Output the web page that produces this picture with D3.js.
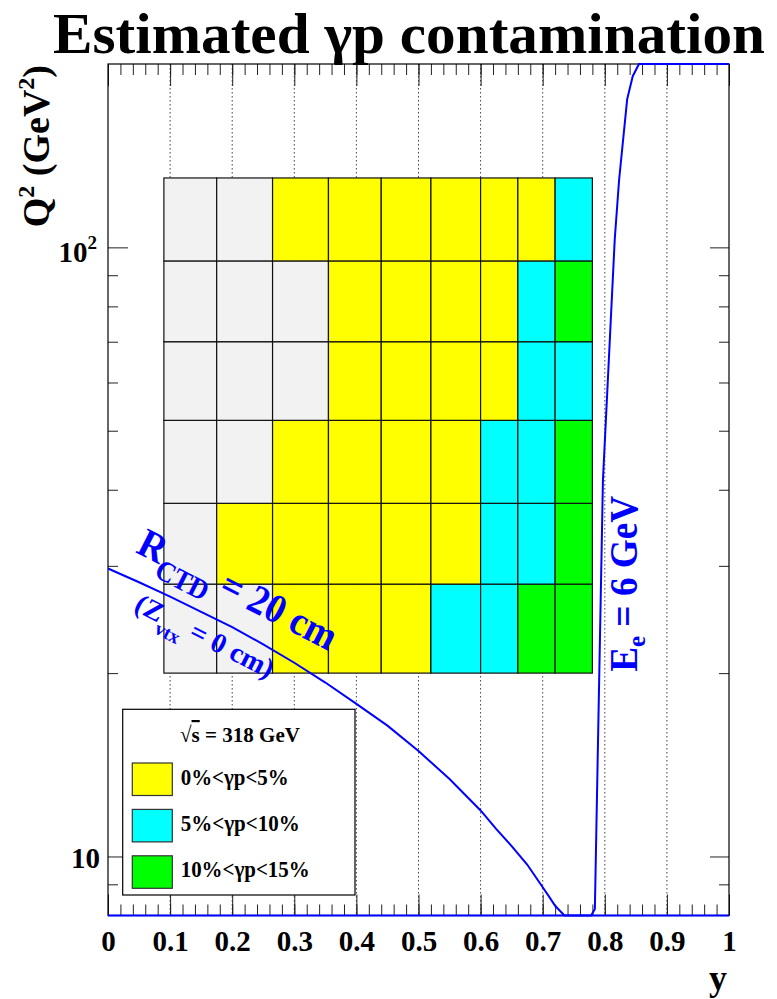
<!DOCTYPE html>
<html>
<head>
<meta charset="utf-8">
<script src="https://cdn.jsdelivr.net/npm/d3@7"></script>
<style>
  body { margin: 0; background: #fff; }
  svg { display: block; font-family: "Liberation Serif", "Times New Roman", serif; font-weight: bold; }
</style>
</head>
<body>
<svg id="chart" width="777" height="999"></svg>
<script>
// bin edges of the y / Q2 grid
const yEdges = [0.09, 0.175, 0.265, 0.355, 0.44, 0.52, 0.60, 0.66, 0.72, 0.78];
const q2Edges = [20, 28, 38, 52, 70, 95, 130];

// contamination class per cell, rows from low Q2 to high Q2
// 0 = not estimated, 1 = 0-5%, 2 = 5-10%, 3 = 10-15%
const cellClass = [
  [0, 0, 1, 1, 1, 2, 2, 3, 3],
  [0, 1, 1, 1, 1, 1, 2, 2, 3],
  [0, 0, 1, 1, 1, 1, 2, 2, 3],
  [0, 0, 0, 1, 1, 1, 1, 2, 2],
  [0, 0, 0, 1, 1, 1, 1, 2, 3],
  [0, 0, 1, 1, 1, 1, 1, 1, 2]
];
const classColors = ['#f2f2f2', '#ffff00', '#00ffff', '#00ff00'];
const legendLabels = ['0%<γp<5%', '5%<γp<10%', '10%<γp<15%'];

// R_CTD = 20 cm acceptance line
const rctdY  = [0, 0.05, 0.1, 0.15, 0.2, 0.25, 0.3, 0.35, 0.4, 0.45, 0.5, 0.55, 0.6, 0.625, 0.65, 0.675, 0.7, 0.71, 0.72, 0.735, 1.0];
const rctdQ2 = [29.7, 28.2, 26.7, 25.2, 23.8, 22.3, 20.8, 19.3, 17.8, 16.4, 14.9, 13.4, 11.9, 11.1, 10.4, 9.7, 8.9, 8.6, 8.3, 8.0, 8.0];

// E_e = 6 GeV line
const eeY  = [0, 0.778, 0.784, 0.797, 0.816, 0.823, 0.836, 0.845, 0.855, 1.0];
const eeQ2 = [8, 8, 8.2, 41.5, 103, 129, 175, 191, 200, 200];

// tick labels
const xMajor = [0, 0.1, 0.2, 0.3, 0.4, 0.5, 0.6, 0.7, 0.8, 0.9, 1];
const xGrid = [0.1, 0.2, 0.3, 0.4, 0.5, 0.6, 0.7, 0.8, 0.9];
const yMajor = [10, 100];
const yMinor = [9, 20, 30, 40, 50, 60, 70, 80, 90];

const frame = {left: 108, right: 729, top: 64, bottom: 915.5};

const svg = d3.select('#chart');

const xScale = d3.scaleLinear().domain([0, 1]).range([frame.left, frame.right]);
const yScale = d3.scaleLog().domain([8, 200]).range([frame.bottom, frame.top]);

// title
svg.append('text')
  .attr('x', 53).attr('y', 53)
  .attr('font-size', 58)
  .attr('textLength', 712).attr('lengthAdjust', 'spacingAndGlyphs')
  .text('Estimated γp contamination');

// dotted grid
svg.append('g').selectAll('line')
  .data(xGrid).enter().append('line')
  .attr('x1', d => xScale(d)).attr('x2', d => xScale(d))
  .attr('y1', frame.top).attr('y2', frame.bottom)
  .attr('stroke', '#444').attr('stroke-width', 1)
  .attr('stroke-dasharray', '1.5,2.5');

// cells
let cells = [];
cellClass.forEach((row, r) => {
  row.forEach((c, k) => {
    cells.push({y0: yEdges[k], y1: yEdges[k + 1], q0: q2Edges[r], q1: q2Edges[r + 1], c: c});
  });
});
svg.append('g').selectAll('rect')
  .data(cells).enter().append('rect')
  .attr('x', d => xScale(d.y0))
  .attr('y', d => yScale(d.q1))
  .attr('width', d => xScale(d.y1) - xScale(d.y0))
  .attr('height', d => yScale(d.q0) - yScale(d.q1))
  .attr('fill', d => classColors[d.c])
  .attr('stroke', '#111').attr('stroke-width', 1.2);

// axes (ROOT style: ticks inside on all four sides)
function axisG(axis, tx, ty){
  let g = svg.append('g')
    .attr('transform', 'translate(' + tx + ',' + ty + ')')
    .call(axis);
  g.select('.domain').remove();
  g.selectAll('line').attr('stroke', '#222');
  return g;
}
let bottomMajor = axisG(d3.axisBottom(xScale).tickValues(xMajor).tickSize(-21).tickPadding(15).tickFormat(d3.format('')), 0, frame.bottom);
bottomMajor.selectAll('text')
  .attr('font-family', '"Liberation Serif", serif')
  .attr('font-weight', 'bold')
  .attr('font-size', 29)
  .attr('fill', '#000');
bottomMajor.attr('font-family', null).attr('font-size', null);
const xMinor = d3.range(0, 1.0001, 0.02);
axisG(d3.axisBottom(xScale).tickValues(xMinor).tickSize(-11).tickFormat(''), 0, frame.bottom);
axisG(d3.axisTop(xScale).tickValues(xMajor).tickSize(-22).tickFormat(''), 0, frame.top);
axisG(d3.axisTop(xScale).tickValues(xMinor).tickSize(-11).tickFormat(''), 0, frame.top);
axisG(d3.axisLeft(yScale).tickValues(yMajor).tickSize(-20).tickFormat(''), frame.left, 0);
axisG(d3.axisLeft(yScale).tickValues(yMinor).tickSize(-10).tickFormat(''), frame.left, 0);
axisG(d3.axisRight(yScale).tickValues(yMajor).tickSize(-19).tickFormat(''), frame.right, 0);
axisG(d3.axisRight(yScale).tickValues(yMinor).tickSize(-10).tickFormat(''), frame.right, 0);

// frame
svg.append('rect')
  .attr('x', frame.left).attr('y', frame.top)
  .attr('width', frame.right - frame.left).attr('height', frame.bottom - frame.top)
  .attr('fill', 'none').attr('stroke', '#000').attr('stroke-width', 1.2);

// y tick labels
svg.append('text')
  .attr('x', 100).attr('y', yScale(10) + 12)
  .attr('text-anchor', 'end').attr('font-size', 29)
  .text('10');
let lab100 = svg.append('text')
  .attr('x', 97).attr('y', yScale(100) + 15)
  .attr('text-anchor', 'end').attr('font-size', 29);
lab100.append('tspan').text('10');
lab100.append('tspan').attr('font-size', 19).attr('dy', -13).text('2');

// axis titles
svg.append('text')
  .attr('x', 727).attr('y', 990)
  .attr('text-anchor', 'end').attr('font-size', 36)
  .text('y');
let yTitle = svg.append('text')
  .attr('transform', 'translate(49,' + (frame.top + 1) + ') rotate(-90)')
  .attr('text-anchor', 'end').attr('font-size', 38);
yTitle.append('tspan').text('Q');
yTitle.append('tspan').attr('font-size', 24).attr('dy', -15).text('2');
yTitle.append('tspan').attr('dy', 15).text(' (GeV');
yTitle.append('tspan').attr('font-size', 24).attr('dy', -15).text('2');
yTitle.append('tspan').attr('dy', 15).text(')');

// curves
const line = d3.line()
  .x(d => xScale(d[0]))
  .y(d => yScale(d[1]));
const curves = [
  d3.zip(rctdY, rctdQ2),
  d3.zip(eeY, eeQ2)
];
svg.append('g').selectAll('path')
  .data(curves).enter().append('path')
  .attr('d', line)
  .attr('fill', 'none')
  .attr('stroke', '#0000ff')
  .attr('stroke-width', 2);

// curve labels
const angle = 27;
let rLab = svg.append('text')
  .attr('transform', 'translate(' + xScale(0.043) + ',' + yScale(31.6) + ') rotate(' + angle + ')')
  .attr('fill', '#0000ff').attr('font-size', 41)
  .attr('textLength', 218).attr('lengthAdjust', 'spacingAndGlyphs');
rLab.append('tspan').text('R');
rLab.append('tspan').attr('font-size', 29).attr('dy', 13).text('CTD');
rLab.append('tspan').attr('dy', -13).text(' = 20 cm');

let zLab = svg.append('text')
  .attr('transform', 'translate(' + xScale(0.04) + ',' + yScale(25.4) + ') rotate(' + angle + ')')
  .attr('fill', '#0000ff').attr('font-size', 28)
  .attr('textLength', 152).attr('lengthAdjust', 'spacingAndGlyphs');
zLab.append('tspan').text('(Z');
zLab.append('tspan').attr('font-size', 19).attr('dy', 11).text('vtx');
zLab.append('tspan').attr('dy', -11).text('  = 0 cm)');

let eLab = svg.append('text')
  .attr('transform', 'translate(' + xScale(0.852) + ',' + yScale(20.1) + ') rotate(-90)')
  .attr('fill', '#0000ff').attr('font-size', 39)
  .attr('textLength', 176).attr('lengthAdjust', 'spacingAndGlyphs');
eLab.append('tspan').text('E');
eLab.append('tspan').attr('font-size', 26).attr('dy', 8).text('e');
eLab.append('tspan').attr('dy', -8).text(' = 6 GeV');

// legend
const legend = svg.append('g');
legend.append('rect')
  .attr('x', 122.7).attr('y', 709.3).attr('width', 232.3).attr('height', 185.7)
  .attr('fill', '#fff').attr('stroke', '#000').attr('stroke-width', 1.2);
let head = legend.append('text')
  .attr('x', 240).attr('y', 742)
  .attr('text-anchor', 'middle').attr('font-size', 22)
  .attr('textLength', 120).attr('lengthAdjust', 'spacingAndGlyphs');
head.append('tspan').text('√');
head.append('tspan').attr('text-decoration', 'overline').text('s');
head.append('tspan').text(' = 318 GeV');

const legendWidths = [108, 119, 129];
const items = legend.selectAll('g.item')
  .data(legendLabels).enter().append('g')
  .attr('class', 'item')
  .attr('transform', (d, i) => 'translate(132.3,' + (763 + i * 46.4) + ')');
items.append('rect')
  .attr('width', 40).attr('height', 32.5)
  .attr('fill', (d, i) => classColors[i + 1])
  .attr('stroke', '#333').attr('stroke-width', 1.2);
items.append('text')
  .attr('x', 48.4).attr('y', 21.5)
  .attr('font-size', 23)
  .attr('textLength', (d, i) => legendWidths[i]).attr('lengthAdjust', 'spacingAndGlyphs')
  .text(d => d);
</script>
</body>
</html>
